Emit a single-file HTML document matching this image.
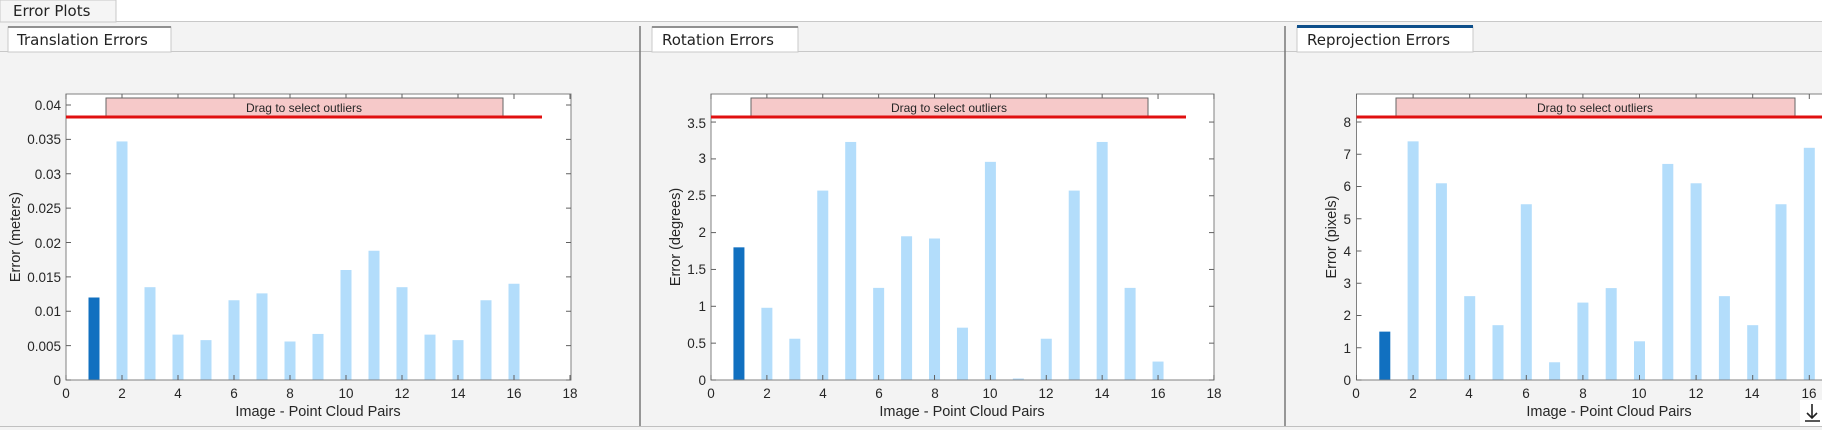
<!DOCTYPE html>
<html><head><meta charset="utf-8"><style>
html,body{margin:0;padding:0;background:#f0f0f0;}
svg{display:block;}
text{font-family:"Liberation Sans",Arial,sans-serif;fill:#262626;}
.t{font-size:13.5px;}
.l{font-size:14.5px;}
.tab{font-family:"DejaVu Sans","Liberation Sans",sans-serif;font-size:15px;fill:#222;}
</style></head><body>
<svg id="s" width="1822" height="430" xmlns="http://www.w3.org/2000/svg">
<rect x="0" y="0" width="1822" height="430" fill="#f3f3f3"/>
<rect x="116" y="0" width="1706" height="21" fill="#ffffff"/>
<line x1="116" y1="21.5" x2="1822" y2="21.5" stroke="#c8c8c8"/>
<rect x="0" y="0" width="116" height="22" fill="#f5f5f5" stroke="#c8c8c8"/>
<text class="tab" x="13" y="16">Error Plots</text>
<line x1="0" y1="51.5" x2="1822" y2="51.5" stroke="#c8c8c8"/>
<line x1="0" y1="426.5" x2="1822" y2="426.5" stroke="#c0c0c0"/>
<line x1="640" y1="26" x2="640" y2="426" stroke="#777" stroke-width="1.5"/>
<line x1="1285" y1="26" x2="1285" y2="426" stroke="#777" stroke-width="1.5"/>
<!-- tabs -->
<rect x="8" y="27" width="163" height="25" fill="#ffffff" stroke="#c8c8c8"/>
<rect x="8" y="26" width="163" height="2" fill="#909090"/>
<text class="tab" x="17" y="45">Translation Errors</text>
<rect x="652" y="27" width="146" height="25" fill="#ffffff" stroke="#c8c8c8"/>
<rect x="652" y="26" width="146" height="2" fill="#909090"/>
<text class="tab" x="662" y="45">Rotation Errors</text>
<rect x="1297" y="27" width="176" height="25" fill="#ffffff" stroke="#c8c8c8"/>
<rect x="1297" y="25" width="176" height="3" fill="#0e4f8a"/>
<text class="tab" x="1307" y="45">Reprojection Errors</text>
<g id="g"></g>
<!-- panel 1 labels -->
<g class="t" text-anchor="end">
<text x="61" y="385">0</text><text x="61" y="351">0.005</text><text x="61" y="316">0.01</text><text x="61" y="282">0.015</text><text x="61" y="248">0.02</text><text x="61" y="213">0.025</text><text x="61" y="179">0.03</text><text x="61" y="144">0.035</text><text x="61" y="110">0.04</text>
</g>
<g class="t" text-anchor="middle">
<text x="66" y="398">0</text><text x="122" y="398">2</text><text x="178" y="398">4</text><text x="234" y="398">6</text><text x="290" y="398">8</text><text x="346" y="398">10</text><text x="402" y="398">12</text><text x="458" y="398">14</text><text x="514" y="398">16</text><text x="570" y="398">18</text>
</g>
<text class="l" x="318" y="416" text-anchor="middle">Image - Point Cloud Pairs</text>
<text class="l" transform="translate(20,237) rotate(-90)" text-anchor="middle">Error (meters)</text>
<!-- panel 2 -->
<g class="t" text-anchor="end">
<text x="706" y="385">0</text><text x="706" y="348">0.5</text><text x="706" y="311">1</text><text x="706" y="274">1.5</text><text x="706" y="237">2</text><text x="706" y="200">2.5</text><text x="706" y="163">3</text><text x="706" y="128">3.5</text>
</g>
<g class="t" text-anchor="middle">
<text x="711" y="398">0</text><text x="767" y="398">2</text><text x="823" y="398">4</text><text x="879" y="398">6</text><text x="935" y="398">8</text><text x="990" y="398">10</text><text x="1046" y="398">12</text><text x="1102" y="398">14</text><text x="1158" y="398">16</text><text x="1214" y="398">18</text>
</g>
<text class="l" x="962" y="416" text-anchor="middle">Image - Point Cloud Pairs</text>
<text class="l" transform="translate(680,237) rotate(-90)" text-anchor="middle">Error (degrees)</text>
<!-- panel 3 -->
<g class="t" text-anchor="end">
<text x="1351" y="385">0</text><text x="1351" y="353">1</text><text x="1351" y="320">2</text><text x="1351" y="288">3</text><text x="1351" y="256">4</text><text x="1351" y="224">5</text><text x="1351" y="191">6</text><text x="1351" y="159">7</text><text x="1351" y="127">8</text>
</g>
<g class="t" text-anchor="middle">
<text x="1356" y="398">0</text><text x="1413" y="398">2</text><text x="1469" y="398">4</text><text x="1526" y="398">6</text><text x="1583" y="398">8</text><text x="1639" y="398">10</text><text x="1696" y="398">12</text><text x="1752" y="398">14</text><text x="1809" y="398">16</text>
</g>
<text class="l" x="1609" y="416" text-anchor="middle">Image - Point Cloud Pairs</text>
<text class="l" transform="translate(1336,237) rotate(-90)" text-anchor="middle">Error (pixels)</text>
<rect x="1800" y="400" width="22" height="26" fill="#ffffff"/>
<path d="M1812 404 V418 M1807 413 L1812 418 L1817 413 M1805 421 H1820" stroke="#222" stroke-width="1.6" fill="none"/>
<!-- drag text -->
<g style="font-size:12px" text-anchor="middle">
<text x="304" y="112">Drag to select outliers</text>
<text x="949" y="112">Drag to select outliers</text>
<text x="1595" y="112">Drag to select outliers</text>
</g>
</svg>
<script>
var NS="http://www.w3.org/2000/svg",g=document.getElementById("g");
function el(t,a){var e=document.createElementNS(NS,t);for(var k in a)e.setAttribute(k,a[k]);g.appendChild(e);return e;}
var P=[
{x0:66,u:28,right:571,sc:6875,v:[0.012,0.0347,0.0135,0.0066,0.0058,0.0116,0.0126,0.0056,0.0067,0.016,0.0188,0.0135,0.0066,0.0058,0.0116,0.014],yt:[0,.005,.01,.015,.02,.025,.03,.035,.04],db:[106,503],rl:542},
{x0:711,u:27.94,right:1214,sc:73.7,v:[1.8,0.98,0.56,2.57,3.23,1.25,1.95,1.92,0.71,2.96,0.02,0.56,2.57,3.23,1.25,0.25],yt:[0,.5,1,1.5,2,2.5,3,3.5],db:[751,1148],rl:1186},
{x0:1356.5,u:28.3,right:1830,sc:32.25,v:[1.5,7.4,6.1,2.6,1.7,5.45,0.55,2.4,2.85,1.2,6.7,6.1,2.6,1.7,5.45,7.2],yt:[0,1,2,3,4,5,6,7,8],db:[1396,1795],rl:1830}
];
P.forEach(function(p){
 el("rect",{x:p.x0,y:94,width:p.right-p.x0,height:286,fill:"#fff",stroke:"#808080","stroke-width":1});
 p.v.forEach(function(v,i){var cx=p.x0+p.u*(i+1),h=v*p.sc;el("rect",{x:cx-5.5,y:380-h,width:11,height:h,fill:i==0?"#1170c0":"#b3ddfb"});});
 el("line",{x1:p.x0,y1:380,x2:p.right,y2:380,stroke:"#808080"});
 el("line",{x1:p.x0,y1:94,x2:p.x0,y2:380,stroke:"#808080"});
 for(var k=0;k<=18;k+=2){var x=p.x0+p.u*k;if(x>1822)break;el("line",{x1:x,y1:380,x2:x,y2:375,stroke:"#606060"});el("line",{x1:x,y1:94,x2:x,y2:99,stroke:"#606060"});}
 p.yt.forEach(function(t){var y=380-t*p.sc;el("line",{x1:p.x0,y1:y,x2:p.x0+5,y2:y,stroke:"#606060"});if(p.right<1822)el("line",{x1:p.right,y1:y,x2:p.right-5,y2:y,stroke:"#606060"});});
 el("rect",{x:p.db[0],y:98,width:p.db[1]-p.db[0],height:19,fill:"#f6c9c9",stroke:"#666","stroke-width":1});
 el("line",{x1:p.x0,y1:117,x2:p.rl,y2:117,stroke:"#e01010","stroke-width":3});
});
</script>
</body></html>
